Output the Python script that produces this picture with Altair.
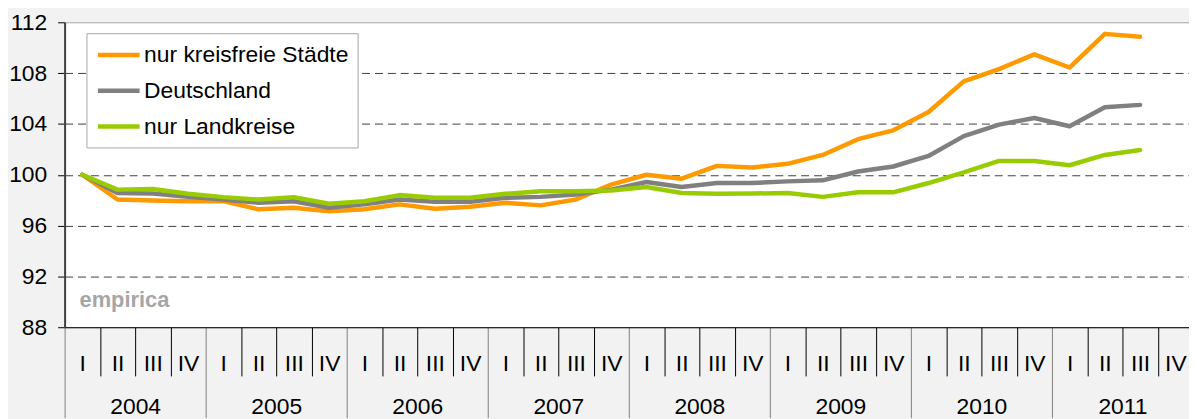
import altair as alt
import pandas as pd

# ---- data ----
quarters = ["I", "II", "III", "IV"]
years = [2004, 2005, 2006, 2007, 2008, 2009, 2010, 2011]
series_names = ["nur kreisfreie Städte", "Deutschland", "nur Landkreise"]
series_colors = ["#FF9900", "#808080", "#99CC00"]

staedte = [100.0, 98.05, 97.98, 97.92, 97.92, 97.28, 97.4, 97.12, 97.28, 97.67, 97.33,
           97.48, 97.8, 97.59, 98.05, 99.22, 100.0, 99.69, 100.7, 100.57, 100.86, 101.56,
           102.8, 103.5, 104.94, 107.35, 108.31, 109.48, 108.44, 111.09, 110.86]
deutschland = [100.0, 98.57, 98.52, 98.26, 98.05, 97.8, 97.92, 97.4, 97.67, 98.05, 97.87,
               97.87, 98.19, 98.26, 98.44, 98.83, 99.43, 99.04, 99.35, 99.35, 99.48, 99.56,
               100.26, 100.65, 101.48, 103.04, 103.95, 104.47, 103.82, 105.32, 105.5]
landkreise = [100.0, 98.83, 98.88, 98.5, 98.24, 98.05, 98.24, 97.72, 97.92, 98.4, 98.19,
              98.19, 98.5, 98.7, 98.7, 98.76, 99.04, 98.57, 98.5, 98.52, 98.57, 98.26,
              98.62, 98.62, 99.35, 100.18, 101.09, 101.09, 100.75, 101.56, 101.95]
y_ticks = [88, 92, 96, 100, 104, 108, 112]
watermark = "empirica"

FONT = "Liberation Sans"
FS = 23

rows = []
for name, vals in zip(series_names, [staedte, deutschland, landkreise]):
    for i, v in enumerate(vals):
        rows.append({"serie": name, "pos": i + 0.5, "wert": v})
df = pd.DataFrame(rows)

n_q = len(years) * len(quarters)
QW = 35.5          # px per quarter
W = 1132           # visible plot width (chart is cut at the window edge)
H = 307
xmax = W / QW
xscale = alt.Scale(domain=[0, xmax], nice=False, zero=False)

quarter_expr = "[" + ",".join("'%s'" % q for q in quarters) + "][floor(datum.value) % 4]"
year_expr = "[" + ",".join("'%d'" % y for y in years) + "][floor(datum.value / 4)]"

lines = alt.Chart(df).mark_line(strokeWidth=4.5, strokeJoin="round", strokeCap="round").encode(
    x=alt.X("pos:Q", scale=xscale,
            axis=alt.Axis(orient="bottom", values=[i for i in range(n_q + 1) if i % 4 != 0],
                          tickSize=49, tickColor="#000000", tickWidth=1, labels=False,
                          domain=True, domainColor="#000000", domainWidth=1, grid=False, title=None)),
    y=alt.Y("wert:Q", scale=alt.Scale(domain=[88, 112], nice=False, zero=False),
            axis=alt.Axis(values=y_ticks, grid=True, gridDash=[8, 5], gridColor="#404040", gridWidth=1,
                          gridOpacity={"condition": {"test": "datum.value <= 88 || datum.value >= 112", "value": 0}, "value": 1},
                          domain=True, domainColor="#404040", domainWidth=2,
                          tickColor="#000000", tickSize=7, labelFontSize=FS, labelFont=FONT,
                          labelColor="#000000", labelPadding=11, title=None)),
    color=alt.Color("serie:N", scale=alt.Scale(domain=series_names, range=series_colors),
                    legend=alt.Legend(title=None, orient="none", legendX=22, legendY=11,
                                      fillColor="white", strokeColor="#a6a6a6", padding=9,
                                      symbolType="M-1,0H3", symbolStrokeWidth=4.5, symbolSize=441,
                                      labelFontSize=FS, labelFont=FONT, labelColor="#000000",
                                      labelOffset=23, labelLimit=400, rowPadding=11)),
)

qdf = pd.DataFrame({"pos": [i + 0.5 for i in range(n_q)]})
quarter_axis = alt.Chart(qdf).mark_rule(opacity=0).encode(
    x=alt.X("pos:Q", scale=xscale,
            axis=alt.Axis(orient="bottom", values=[i + 0.5 for i in range(n_q)], labelExpr=quarter_expr,
                          ticks=False, domain=False, grid=False, labelPadding=37,
                          labelBaseline="middle", labelFontSize=FS, labelFont=FONT,
                          labelColor="#000000", labelFlush=False, labelOverlap=False, title=None)),
)

ydf = pd.DataFrame({"pos": [4 * k + 2 for k in range(len(years))]})
year_sep = alt.Chart(ydf).mark_rule(opacity=0).encode(
    x=alt.X("pos:Q", scale=xscale,
            axis=alt.Axis(orient="bottom", values=[4 * k for k in range(len(years) + 1)],
                          tickSize=91, tickColor="#808080", tickWidth=1, labels=False,
                          domain=False, grid=False, title=None)),
)
year_axis = alt.Chart(ydf).mark_rule(opacity=0).encode(
    x=alt.X("pos:Q", scale=xscale,
            axis=alt.Axis(orient="bottom", values=[4 * k + 2 for k in range(len(years))], labelExpr=year_expr,
                          ticks=False, domain=False, grid=False, labelPadding=80,
                          labelBaseline="middle", labelFontSize=FS, labelFont=FONT,
                          labelColor="#000000", labelFlush=False, labelOverlap=False, title=None)),
)

wm = alt.Chart(pd.DataFrame({"t": [watermark]})).mark_text(
    align="left", baseline="middle", fontSize=22, fontWeight="bold", font=FONT, color="#a6a6a6"
).encode(x=alt.value(15), y=alt.value(280), text="t:N")

chart = alt.layer(year_sep, lines, quarter_axis, year_axis, wm).resolve_axis(x="independent").properties(
    width=W, height=H,
    padding={"left": 57, "top": 13, "right": 0, "bottom": 92},
    autosize=alt.AutoSizeParams(type="none"),
    background="#f2f2f2",
).configure_view(fill="white", stroke="#a6a6a6", strokeWidth=1)

chart.save("out.html", embed_options={"renderer": "svg", "actions": False})
